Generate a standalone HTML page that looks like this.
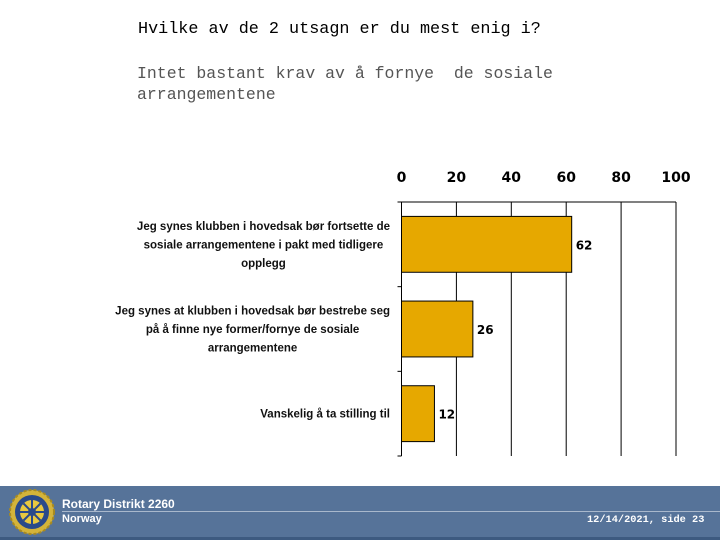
<!DOCTYPE html>
<html><head><meta charset="utf-8"><style>
body{margin:0;width:720px;height:540px;background:#fff;position:relative;overflow:hidden;font-family:"Liberation Sans",sans-serif}
.t{position:absolute;font-family:"Liberation Mono",monospace}
</style></head><body>
<div class="t" style="left:138px;top:20px;font-size:16.8px;color:#000">Hvilke av de 2 utsagn er du mest enig i?</div>
<div class="t" style="left:137px;top:63px;font-size:16.5px;line-height:21px;color:#555">Intet bastant krav av å fornye &nbsp;de sosiale<br>arrangementene</div>
<svg id="c" width="720" height="540" style="position:absolute;left:0;top:0"></svg>
<div style="position:absolute;left:0;top:486px;width:720px;height:51px;background:#567399;border-bottom:3px solid #3d5a80"></div>
<div style="position:absolute;left:62px;top:511px;width:658px;height:1px;background:#a9b8cc"></div>
<svg width="50" height="50" style="position:absolute;left:7px;top:487px">
<circle cx="25" cy="25" r="22" fill="#d4b43a" stroke="#a88a20" stroke-width="2" stroke-dasharray="3 2"/>
<circle cx="25" cy="25" r="17" fill="#2a4a8a"/>
<circle cx="25" cy="25" r="12" fill="#e8c840"/>
<g stroke="#2a4a8a" stroke-width="2"><line x1="25" y1="13" x2="25" y2="37"/><line x1="13" y1="25" x2="37" y2="25"/><line x1="16.5" y1="16.5" x2="33.5" y2="33.5"/><line x1="33.5" y1="16.5" x2="16.5" y2="33.5"/></g>
<circle cx="25" cy="25" r="4" fill="#2a4a8a"/>
</svg>
<div style="position:absolute;left:62px;top:497px;color:#fff;font-weight:bold;font-size:12px">Rotary Distrikt 2260</div>
<div style="position:absolute;left:62px;top:513px;color:#fff;font-weight:bold;font-size:11px">Norway</div>
<div class="t" style="left:587px;top:514px;color:#fff;font-size:10.3px;font-weight:bold">12/14/2021, side 23</div>
<script>
const categories=[["Jeg synes klubben i hovedsak bør fortsette de","sosiale arrangementene i pakt med tidligere","opplegg"],["Jeg synes at klubben i hovedsak bør bestrebe seg","på å finne nye former/fornye de sosiale","arrangementene"],["Vanskelig å ta stilling til"]];
const values=[62,26,12];
const ticks=[0,20,40,60,80,100];
const svg=document.getElementById('c');const NS='http://www.w3.org/2000/svg';
const x0=401.5,x1=676,yT=202,yB=456;
const X=v=>x0+(v-ticks[0])/(ticks[ticks.length-1]-ticks[0])*(x1-x0);
const band=(yB-yT)/categories.length;
function mk(t,a,txt){const e=document.createElementNS(NS,t);for(const k in a)e.setAttribute(k,a[k]);if(txt!=null)e.textContent=txt;svg.appendChild(e);return e;}
ticks.forEach((t,i)=>{
const g=mk('line',{x1:X(t),x2:X(t),y1:yT,y2:yB,stroke:'#000','stroke-width':1});


const l=mk('text',{x:X(t),y:182,'text-anchor':'middle','font-size':14,'font-weight':'bold','font-family':'"DejaVu Sans",sans-serif',fill:'#000'},t);


});
const ax=mk('line',{x1:x0,x2:x1,y1:yT,y2:yT,stroke:'#000'});


for(let i=0;i<=categories.length;i++){const tk=mk('line',{x1:x0-4,x2:x0,y1:yT+i*band,y2:yT+i*band,stroke:'#000'});

}
values.forEach((v,i)=>{
const cy=yT+band*(i+0.5);const h=band*0.66;
const r=mk('rect',{x:x0,y:cy-h/2,width:X(v)-x0,height:h,fill:'#e6a800',stroke:'#000','stroke-width':1});


const vl=mk('text',{x:X(v)+4,y:cy+5,'font-size':12,'font-weight':'bold','font-family':'"DejaVu Sans",sans-serif',fill:'#000'},v);


const lines=categories[i];const lh=18.5;
const els=lines.map((s,j)=>{const t=mk('text',{x:0,y:cy+4+(j-(lines.length-1)/2)*lh,'text-anchor':'middle','font-size':11.5,'font-weight':'bold','font-family':'"Liberation Sans",sans-serif',fill:'#111'},s);

return t;});
const mw=Math.max(...els.map(e=>e.getComputedTextLength()));
els.forEach(e=>e.setAttribute('x',390-mw/2));
});
</script>
</body></html>
